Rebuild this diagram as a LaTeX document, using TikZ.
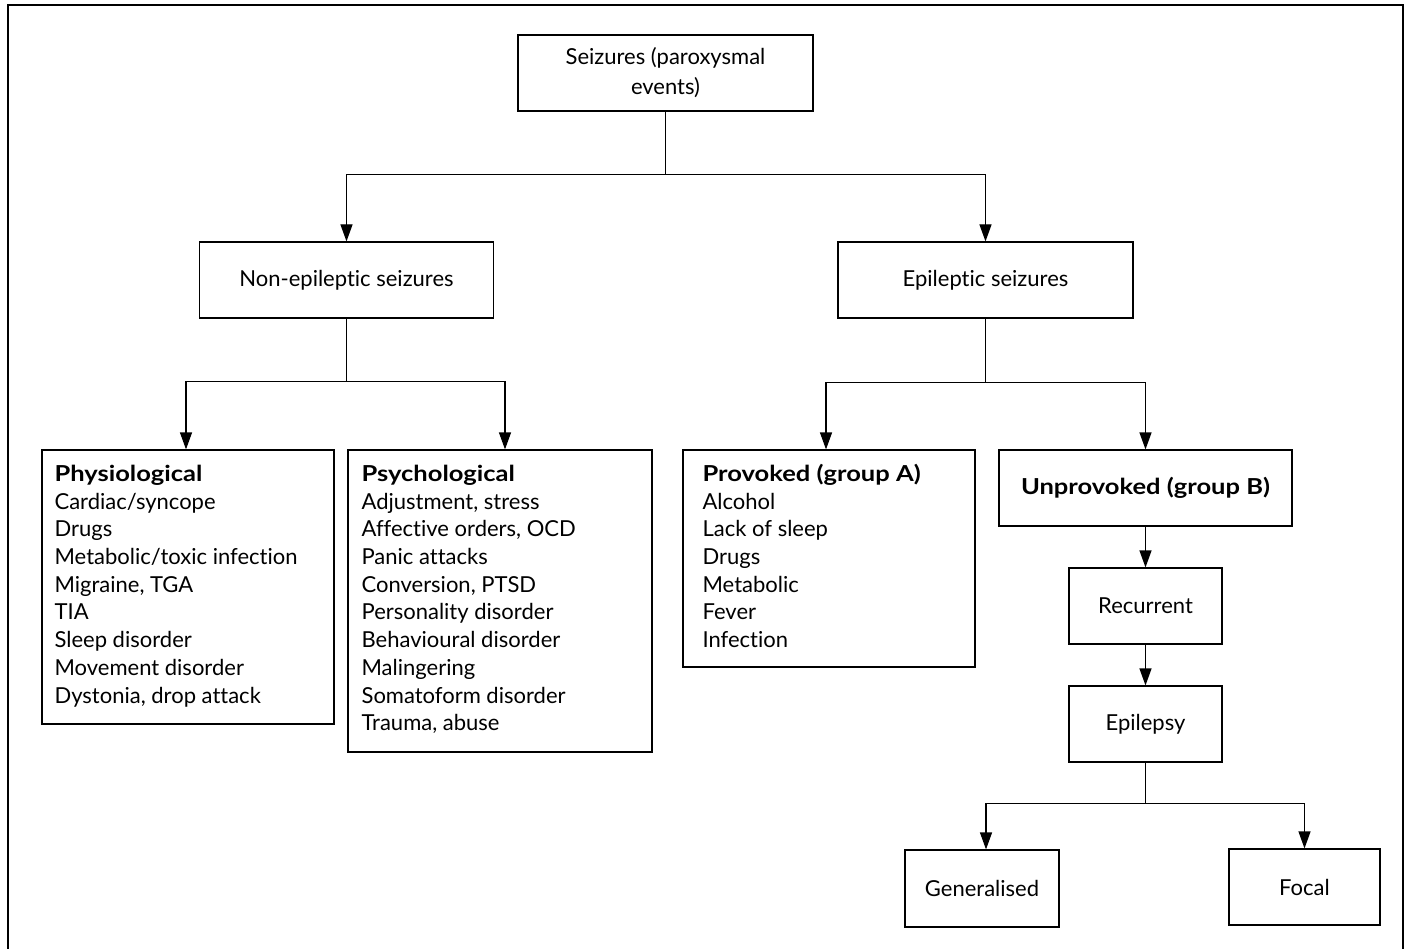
\documentclass[tikz,border=0pt]{standalone}
\usepackage{fontspec}
\setmainfont{Lato}[Ligatures=NoCommon]
\newfontfamily\boldwide[FakeStretch=1.16,Ligatures=NoCommon]{Lato}
\newcommand{\bw}[1]{{\boldwide\bfseries #1}}
\usetikzlibrary{arrows.meta,calc}
\begin{document}
\begin{tikzpicture}[x=1pt,y=-1pt,
  every node/.style={font=\fontsize{22}{27.7}\selectfont},
  box/.style={draw, line width=1.2pt, inner sep=0pt, align=center},
  ltext/.style={anchor=base west, align=left, inner sep=0pt},
  conn/.style={line width=1.2pt},
  arr/.style={line width=1.2pt, -{Triangle[length=17pt,width=12pt]}}]
\useasboundingbox (0,0) rectangle (1408,949);
\draw[line width=2pt] (8,5) rectangle (1403,962);

% boxes
\node[box, minimum width=295, minimum height=76, font=\fontsize{22}{30}\selectfont] (top) at (665.5,73) {Seizures (paroxysmal\\events)};
\node[box, minimum width=294, minimum height=76] (nonep) at (346.5,280) {Non-epileptic seizures};
\node[box, minimum width=295, minimum height=76] (ep) at (985.5,280) {Epileptic seizures};
\node[box, minimum width=292, minimum height=274] (phys) at (188,587) {};
\node[box, minimum width=304, minimum height=302] (psy) at (500,601) {};
\node[box, minimum width=292, minimum height=217] (prov) at (829,558.5) {};
\node[box, minimum width=293, minimum height=76] (unprov) at (1145.5,488) {\bw{Unprovoked (group B)}};
\node[box, minimum width=153, minimum height=76] (rec) at (1145.5,606) {Recurrent};
\node[box, minimum width=153, minimum height=76] (epil) at (1145.5,724) {Epilepsy};
\node[box, minimum width=154, minimum height=77] (gen) at (982,888.5) {Generalised};
\node[box, minimum width=151, minimum height=76] (focal) at (1304.5,887) {Focal};

% list texts (anchored at the baseline of the last line)
\node[ltext] (physT) at ($(phys.north west)+(13,253.6)$) {\bw{Physiological}\\Cardiac/syncope\\Drugs\\Metabolic/toxic infection\\Migraine, TGA\\TIA\\Sleep disorder\\Movement disorder\\Dystonia, drop attack};
\node[ltext] (psyT) at ($(psy.north west)+(14,281.3)$) {\bw{Psychological}\\Adjustment, stress\\Affective orders, OCD\\Panic attacks\\Conversion, PTSD\\Personality disorder\\Behavioural disorder\\Malingering\\Somatoform disorder\\Trauma, abuse};
\node[ltext] (provT) at ($(prov.north west)+(20,198.2)$) {\bw{Provoked (group A)}\\Alcohol\\Lack of sleep\\Drugs\\Metabolic\\Fever\\Infection};

% connectors
\coordinate (j1) at ($(top.south)+(0,63)$);
\draw[conn] (top.south) -- (j1);
\draw[arr] (j1) -| (nonep.north);
\draw[arr] (j1) -| (ep.north);

\coordinate (j2) at ($(nonep.south)+(0,63)$);
\draw[conn] (nonep.south) -- (j2);
\draw[arr] (j2) -| ([xshift=-2]phys.north);
\draw[arr] (j2) -| ([xshift=5]psy.north);

\coordinate (j3) at ($(ep.south)+(0,64)$);
\draw[conn] (ep.south) -- (j3);
\draw[arr] (j3) -| ([xshift=-3]prov.north);
\draw[arr] (j3) -| (unprov.north);

\draw[arr] (unprov.south) -- (rec.north);
\draw[arr] (rec.south) -- (epil.north);

\coordinate (j4) at ($(epil.south)+(0,41)$);
\draw[conn] (epil.south) -- (j4);
\draw[arr] (j4) -| ([xshift=4]gen.north);
\draw[arr] (j4) -| (focal.north);
\end{tikzpicture}
\end{document}
